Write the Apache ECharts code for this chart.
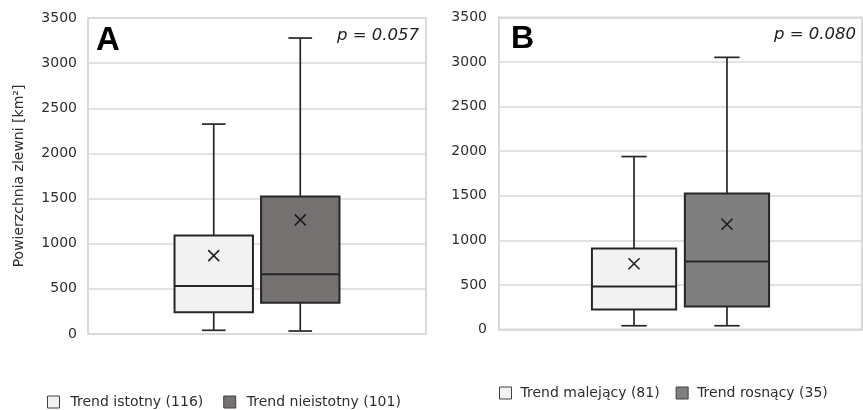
<!DOCTYPE html>
<html>
<head>
<meta charset="utf-8">
<script src="https://cdn.jsdelivr.net/npm/echarts@6/dist/echarts.min.js"></script>
<style>
  html, body { margin: 0; padding: 0; background: #ffffff; }
  #chart { width: 863px; height: 410px; }
</style>
</head>
<body>
<div id="chart"></div>
<script>
// Catchment area statistics: [min, Q1, median, Q3, max] per group, plus the mean
const panelLetters = ['A', 'B'];
const pValues = ['p = 0.057', 'p = 0.080'];
const yAxisTitle = 'Powierzchnia zlewni [km²]';
const yMin = 0, yMax = 3500, yStep = 500;

const namesA = ['Trend istotny (116)', 'Trend nieistotny (101)'];
const statsA = [
  [41, 240, 532, 1090, 2325],
  [33, 347, 662, 1522, 3278]
];
const meansA = [868, 1264];

const namesB = ['Trend malejący (81)', 'Trend rosnący (35)'];
const statsB = [
  [42, 225, 483, 910, 1940],
  [42, 258, 764, 1525, 3053]
];
const meansB = [738, 1180];

const fillsA = ['#f2f2f2', '#767171'];
const fillsB = ['#f2f2f2', '#7f7f7f'];

const LINE = '#262626';
const GRID_LINE = '#d9d9d9';
const TEXT = '#2e2e2e';
const FONT = 'DejaVu Sans';

// Box geometry as fractions of the category band
const BOX = { offset: 0.128, box: 0.232, cap: 0.07 };

function boxRenderer(side) {
  return function (params, api) {
    const band = api.size([1, 0])[0];
    const cat = api.value(0);
    const cx = api.coord([cat, 0])[0] + side * BOX.offset * band;
    const half = BOX.box * band / 2;
    const capHalf = BOX.cap * band / 2;
    const y = (i) => api.coord([cat, api.value(i)])[1];
    const vMin = y(1), q1 = y(2), med = y(3), q3 = y(4), vMax = y(5), mean = y(6);
    const ls = { stroke: LINE, lineWidth: 1.7 };
    const xs = 5.5;
    return {
      type: 'group',
      children: [
        { type: 'line', shape: { x1: cx, y1: vMax, x2: cx, y2: q3 }, style: ls },
        { type: 'line', shape: { x1: cx, y1: q1, x2: cx, y2: vMin }, style: ls },
        { type: 'line', shape: { x1: cx - capHalf, y1: vMax, x2: cx + capHalf, y2: vMax }, style: ls },
        { type: 'line', shape: { x1: cx - capHalf, y1: vMin, x2: cx + capHalf, y2: vMin }, style: ls },
        { type: 'rect', shape: { x: cx - half, y: q3, width: half * 2, height: q1 - q3 },
          style: { fill: api.visual('color'), stroke: LINE, lineWidth: 2 } },
        { type: 'line', shape: { x1: cx - half, y1: med, x2: cx + half, y2: med },
          style: { stroke: LINE, lineWidth: 2 } },
        { type: 'line', shape: { x1: cx - xs, y1: mean - xs, x2: cx + xs, y2: mean + xs },
          style: { stroke: '#1a1a1a', lineWidth: 1.5 } },
        { type: 'line', shape: { x1: cx - xs, y1: mean + xs, x2: cx + xs, y2: mean - xs },
          style: { stroke: '#1a1a1a', lineWidth: 1.5 } }
      ]
    };
  };
}

function makeSeries(names, stats, means, fills, axisIndex) {
  return names.map((name, i) => ({
    type: 'custom',
    name: name,
    xAxisIndex: axisIndex,
    yAxisIndex: axisIndex,
    itemStyle: { color: fills[i], borderColor: LINE, borderWidth: 1 },
    renderItem: boxRenderer(i === 0 ? -1 : 1),
    encode: { x: 0, y: [1, 2, 3, 4, 5, 6] },
    data: [[0].concat(stats[i], [means[i]])]
  }));
}

function makeLegend(names, fills, left, top, gap, pad) {
  return {
    left: left,
    top: top,
    orient: 'horizontal',
    icon: 'rect',
    itemWidth: 12,
    itemHeight: 12,
    itemGap: gap,
    selectedMode: false,
    textStyle: { fontFamily: FONT, fontSize: 14, color: TEXT, padding: [0, 0, 0, pad] },
    data: names.map((n, i) => ({
      name: n,
      itemStyle: { color: fills[i], borderColor: '#404040', borderWidth: 1 }
    }))
  };
}

const yAxisBase = {
  type: 'value',
  min: yMin,
  max: yMax,
  interval: yStep,
  axisLine: { show: false },
  axisTick: { show: false },
  axisLabel: { fontFamily: FONT, fontSize: 14, color: TEXT, margin: 11, formatter: (v) => String(v) },
  splitLine: { show: true, lineStyle: { color: GRID_LINE, width: 1.5 } }
};

const xAxisBase = {
  type: 'category',
  data: [''],
  boundaryGap: true,
  axisLine: { show: true, lineStyle: { color: GRID_LINE, width: 2 } },
  axisTick: { show: false },
  axisLabel: { show: false },
  splitLine: { show: false }
};

const chart = echarts.init(document.getElementById('chart'), null, { renderer: 'canvas' });

chart.setOption({
  animation: false,
  backgroundColor: '#ffffff',
  grid: [
    { left: 88, top: 18, width: 338, height: 316, show: true, borderColor: GRID_LINE, borderWidth: 2, backgroundColor: 'transparent' },
    { left: 499, top: 17.5, width: 363, height: 312, show: true, borderColor: GRID_LINE, borderWidth: 2, backgroundColor: 'transparent' }
  ],
  xAxis: [
    Object.assign({}, xAxisBase, { gridIndex: 0 }),
    Object.assign({}, xAxisBase, { gridIndex: 1 })
  ],
  yAxis: [
    Object.assign({}, yAxisBase, {
      gridIndex: 0,
      name: yAxisTitle,
      nameLocation: 'middle',
      nameGap: 62,
      nameTextStyle: { fontFamily: FONT, fontSize: 14, color: TEXT }
    }),
    Object.assign({}, yAxisBase, { gridIndex: 1, axisLabel: Object.assign({}, yAxisBase.axisLabel, { margin: 12 }) })
  ],
  legend: [
    makeLegend(namesA, fillsA, 42, 390, 20, 6),
    makeLegend(namesB, fillsB, 494, 381, 16, 4)
  ],
  graphic: [
    { type: 'text', left: 96, top: 24, silent: true,
      style: { text: panelLetters[0], font: 'bold 33px "Liberation Sans"', fill: '#000000' } },
    { type: 'text', left: 511, top: 23, silent: true,
      style: { text: panelLetters[1], font: 'bold 32px "Liberation Sans"', fill: '#000000' } },
    { type: 'text', right: 863 - 419, top: 27, silent: true,
      style: { text: pValues[0], font: 'italic 16.5px "DejaVu Sans"', fill: '#222222' } },
    { type: 'text', right: 7, top: 26, silent: true,
      style: { text: pValues[1], font: 'italic 16.5px "DejaVu Sans"', fill: '#222222' } }
  ],
  series: makeSeries(namesA, statsA, meansA, fillsA, 0).concat(makeSeries(namesB, statsB, meansB, fillsB, 1))
});
</script>
</body>
</html>
